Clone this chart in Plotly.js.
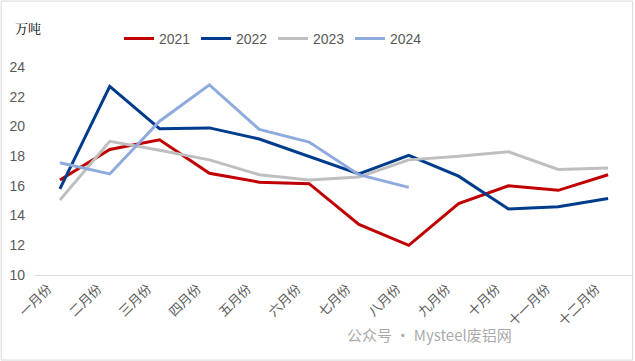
<!DOCTYPE html>
<html><head><meta charset="utf-8">
<script src="https://cdn.plot.ly/plotly-3.0.1.min.js"></script>
<style>html,body{margin:0;padding:0;background:#fff}#c{width:635px;height:361px}</style>
</head><body><div id="c"></div>
<script>
const months = ["一月份","二月份","三月份","四月份","五月份","六月份","七月份","八月份","九月份","十月份","十一月份","十二月份"];
const s2021 = [16.4, 18.45, 19.1, 16.85, 16.25, 16.15, 13.4, 12.0, 14.8, 16.0, 15.7, 16.75];
const s2022 = [15.8, 22.7, 19.85, 19.9, 19.15, 18.0, 16.8, 18.05, 16.65, 14.45, 14.6, 15.15];
const s2023 = [15.05, 19.0, 18.4, 17.75, 16.75, 16.4, 16.6, 17.75, 18.0, 18.3, 17.1, 17.2];
const s2024 = [17.55, 16.8, 20.35, 22.8, 19.8, 18.95, 16.75, 15.9];
const names = ["2021","2022","2023","2024"];
const colors = ["#C00000","#003C8C","#BFBFBF","#8FAADC"];
const series = [s2021, s2022, s2023, s2024];

const traces = series.map((s,i)=>({
  type:"scatter", mode:"lines", name:names[i],
  x: months.slice(0, s.length), y: s,
  line:{color:colors[i], width:3}
}));

const layout = {
  width:635, height:361,
  margin:{l:35, r:2, t:67, b:86},
  paper_bgcolor:"#fff", plot_bgcolor:"#fff",
  font:{family:"Liberation Sans, Arial, Noto Sans CJK SC, sans-serif", color:"#595959"},
  showlegend:true,
  legend:{orientation:"h", x:0.398, xanchor:"center", y:1.135, yanchor:"middle",
          font:{family:"Liberation Sans, Arial, sans-serif", size:14, color:"#595959"},
          itemwidth:30, entrywidth:32, entrywidthmode:"pixels", tracegroupgap:0, bgcolor:"rgba(0,0,0,0)"},
  xaxis:{type:"category", tickangle:-45, showgrid:false, showline:true, linecolor:"#D9D9D9", linewidth:1,
         ticks:"", tickfont:{family:"Noto Sans CJK SC, sans-serif", size:13, color:"#595959"}, zeroline:false,
         range:[-0.5, 11.5], ticklabelstandoff:0, ticklabelshift:-12},
  yaxis:{range:[10,24], dtick:2, showgrid:false, zeroline:false, showline:false, ticks:"",
         tickfont:{size:14, color:"#595959"}, ticklabelstandoff:9},
  annotations:[
    {text:"万吨", xref:"paper", yref:"paper", x:-0.037, xanchor:"left", y:1.192, yanchor:"middle",
     showarrow:false, font:{family:"Noto Serif CJK SC, Noto Sans CJK SC, serif", size:13, color:"#000"}},
    {text:"公众号 · Mysteel废铝网", xref:"paper", yref:"paper", x:0.66, xanchor:"center", y:-0.288, yanchor:"middle",
     showarrow:false, font:{family:"Noto Sans CJK SC, sans-serif", size:15, color:"rgba(140,140,140,0.75)"}}
  ],
  shapes:[
    {type:"rect", xref:"paper", yref:"paper", x0:-0.0565, x1:0.9995, y0:-0.409, y1:1.317,
     line:{color:"#D9D9D9", width:1}, fillcolor:"rgba(0,0,0,0)"}
  ]
};
Plotly.newPlot("c", traces, layout, {displayModeBar:false, staticPlot:true});
</script></body></html>
